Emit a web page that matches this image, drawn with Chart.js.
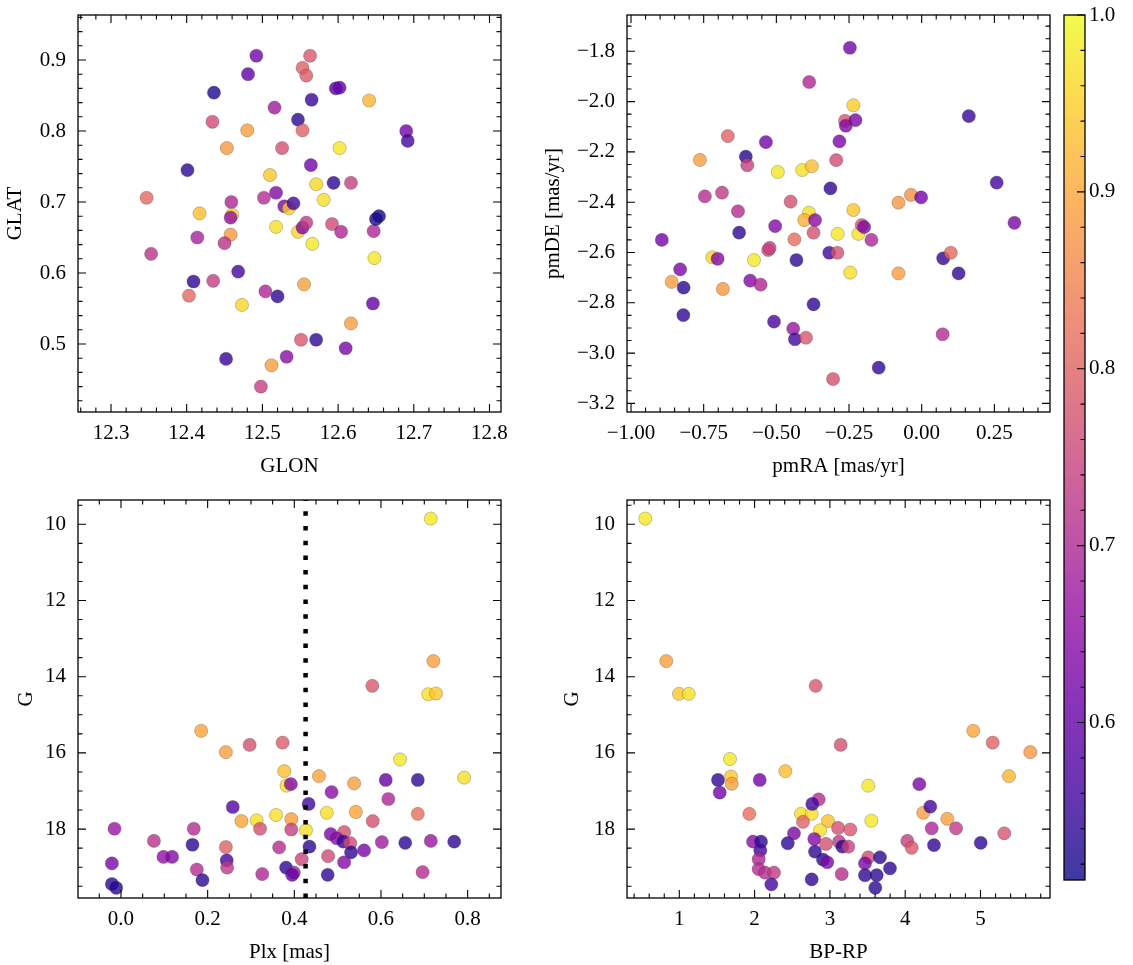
<!DOCTYPE html>
<html lang="en">
<head>
<meta charset="UTF-8">
<title>Cluster members</title>
<script src="https://cdn.jsdelivr.net/npm/chart.js@4.4.0/dist/chart.umd.min.js"></script>
<style>
    body { margin: 0; background: #fff; }
    #fig { position: relative; width: 1133px; height: 965px; overflow: hidden; background: #fff; }
    #fig canvas { position: absolute; }
</style>
</head>
<body>
<div id="fig">
    <canvas id="posChart"></canvas>
    <canvas id="pmChart"></canvas>
    <canvas id="plxChart"></canvas>
    <canvas id="cmdChart"></canvas>
    <canvas id="cbar"></canvas>
</div>
<script>
    // --- sky position panel ---
    const glon = [12.492, 12.563, 12.553, 12.558, 12.481, 12.436, 12.597, 12.602, 12.641, 12.565,
        12.516, 12.434, 12.547, 12.480, 12.553, 12.690, 12.692, 12.453, 12.526, 12.602,
        12.401, 12.564, 12.510, 12.571, 12.594, 12.617, 12.347, 12.459, 12.502, 12.518,
        12.529, 12.535, 12.541, 12.581, 12.417, 12.460, 12.458, 12.518, 12.547, 12.553,
        12.558, 12.592, 12.604, 12.566, 12.647, 12.650, 12.654, 12.414, 12.458, 12.450,
        12.353, 12.648, 12.468, 12.409, 12.435, 12.403, 12.504, 12.520, 12.555, 12.473,
        12.646, 12.617, 12.551, 12.571, 12.610, 12.452, 12.512, 12.532, 12.498];
    const glat = [0.906, 0.906, 0.889, 0.878, 0.880, 0.854, 0.860, 0.861, 0.843, 0.844,
        0.833, 0.813, 0.816, 0.801, 0.801, 0.800, 0.786, 0.776, 0.776, 0.776,
        0.745, 0.752, 0.738, 0.725, 0.727, 0.727, 0.706, 0.700, 0.706, 0.713,
        0.694, 0.691, 0.698, 0.703, 0.684, 0.682, 0.678, 0.665, 0.658, 0.664,
        0.671, 0.669, 0.658, 0.641, 0.659, 0.676, 0.680, 0.650, 0.654, 0.642,
        0.627, 0.621, 0.602, 0.588, 0.589, 0.568, 0.574, 0.567, 0.584, 0.555,
        0.557, 0.529, 0.506, 0.506, 0.494, 0.479, 0.470, 0.482, 0.440];
    const probPos = [0.62, 0.78, 0.80, 0.79, 0.60, 0.53, 0.58, 0.60, 0.92, 0.55,
        0.68, 0.76, 0.54, 0.89, 0.80, 0.62, 0.56, 0.88, 0.77, 0.98,
        0.54, 0.62, 0.94, 0.96, 0.54, 0.74, 0.81, 0.70, 0.71, 0.64,
        0.63, 0.95, 0.56, 0.97, 0.93, 0.95, 0.66, 0.97, 0.96, 0.64,
        0.73, 0.76, 0.70, 0.98, 0.70, 0.53, 0.52, 0.69, 0.88, 0.72,
        0.72, 0.98, 0.56, 0.54, 0.74, 0.81, 0.70, 0.54, 0.89, 0.96,
        0.60, 0.89, 0.78, 0.54, 0.63, 0.55, 0.89, 0.65, 0.74];

    // --- proper motion panel ---
    const pmra = [-0.247, -0.387, -0.235, -0.264, -0.261, -0.228, 0.162, -0.667, -0.536, -0.283,
        -0.763, -0.605, -0.600, -0.294, -0.495, -0.411, -0.378, -0.314, 0.258, -0.746,
        -0.687, -0.451, -0.632, -0.388, -0.404, -0.367, -0.235, -0.080, -0.037, -0.002,
        0.319, -0.894, -0.628, -0.504, -0.438, -0.372, -0.289, -0.218, -0.206, -0.198,
        -0.173, -0.831, -0.860, -0.819, -0.820, -0.720, -0.702, -0.684, -0.577, -0.590,
        -0.554, -0.528, -0.523, -0.431, -0.318, -0.290, -0.246, -0.080, -0.372, -0.508,
        -0.442, -0.436, -0.398, -0.148, -0.305, 0.074, 0.100, 0.127, 0.072];
    const pmde = [-1.786, -1.922, -2.015, -2.077, -2.096, -2.074, -2.058, -2.137, -2.161, -2.158,
        -2.232, -2.219, -2.253, -2.233, -2.280, -2.272, -2.257, -2.345, -2.322, -2.377,
        -2.362, -2.398, -2.436, -2.442, -2.471, -2.471, -2.431, -2.402, -2.371, -2.381,
        -2.482, -2.550, -2.521, -2.495, -2.548, -2.521, -2.526, -2.526, -2.491, -2.499,
        -2.550, -2.667, -2.717, -2.740, -2.849, -2.619, -2.625, -2.745, -2.630, -2.712,
        -2.728, -2.590, -2.582, -2.630, -2.601, -2.601, -2.680, -2.683, -2.806, -2.875,
        -2.903, -2.945, -2.939, -3.058, -3.103, -2.623, -2.601, -2.683, -2.925];
    const probPm = [0.62, 0.70, 0.95, 0.78, 0.64, 0.63, 0.55, 0.80, 0.62, 0.63,
        0.89, 0.53, 0.74, 0.76, 0.98, 0.97, 0.93, 0.54, 0.56, 0.71,
        0.73, 0.77, 0.71, 0.97, 0.91, 0.65, 0.94, 0.88, 0.87, 0.62,
        0.63, 0.62, 0.54, 0.64, 0.82, 0.77, 0.98, 0.97, 0.76, 0.64,
        0.70, 0.63, 0.89, 0.54, 0.54, 0.96, 0.64, 0.88, 0.98, 0.64,
        0.70, 0.76, 0.74, 0.54, 0.56, 0.77, 0.97, 0.89, 0.54, 0.57,
        0.67, 0.56, 0.78, 0.54, 0.77, 0.54, 0.81, 0.54, 0.71];

    // --- parallax vs magnitude panel ---
    const plx = [0.715, 0.721, 0.580, 0.709, 0.727, 0.185, 0.242, 0.297, 0.373, 0.644,
        0.792, 0.377, 0.382, 0.392, 0.457, 0.486, 0.538, 0.611, 0.685, 0.617,
        0.433, 0.258, 0.278, 0.313, 0.358, 0.393, 0.475, 0.542, 0.581, 0.685,
        -0.015, 0.168, 0.321, 0.393, 0.427, 0.484, 0.515, 0.498, 0.513, 0.529,
        0.076, 0.165, 0.242, 0.365, 0.435, 0.531, 0.561, 0.602, 0.656, 0.715,
        0.769, -0.021, 0.098, 0.118, 0.244, 0.245, 0.175, 0.188, 0.326, 0.417,
        0.381, 0.399, 0.395, 0.478, 0.477, 0.515, 0.696, -0.021, -0.011];
    const gPlx = [9.85, 13.59, 14.24, 14.46, 14.44, 15.42, 15.98, 15.79, 15.73, 16.17,
        16.65, 16.48, 16.86, 16.82, 16.61, 17.03, 16.80, 16.71, 16.71, 17.21,
        17.34, 17.42, 17.79, 17.77, 17.63, 17.74, 17.57, 17.55, 17.79, 17.60,
        17.99, 17.99, 17.99, 18.01, 18.03, 18.13, 18.08, 18.24, 18.33, 18.37,
        18.31, 18.41, 18.47, 18.48, 18.46, 18.61, 18.56, 18.34, 18.36, 18.31,
        18.33, 18.90, 18.73, 18.73, 18.82, 19.01, 19.06, 19.34, 19.18, 18.79,
        19.01, 19.14, 19.20, 18.71, 19.20, 18.87, 19.13, 19.44, 19.54];
    const probPlx = [0.98, 0.89, 0.78, 0.97, 0.94, 0.90, 0.89, 0.77, 0.79, 0.98,
        0.97, 0.93, 0.97, 0.64, 0.90, 0.65, 0.89, 0.60, 0.54, 0.70,
        0.56, 0.58, 0.90, 0.97, 0.97, 0.89, 0.97, 0.90, 0.77, 0.82,
        0.67, 0.71, 0.77, 0.74, 0.97, 0.63, 0.77, 0.65, 0.55, 0.76,
        0.72, 0.54, 0.80, 0.71, 0.54, 0.54, 0.63, 0.68, 0.54, 0.67,
        0.54, 0.63, 0.66, 0.64, 0.56, 0.73, 0.71, 0.54, 0.70, 0.75,
        0.54, 0.68, 0.60, 0.76, 0.54, 0.64, 0.71, 0.54, 0.53];
    const plxCut = 0.426;

    // --- colour-magnitude panel ---
    const bprp = [0.548, 0.827, 0.996, 1.125, 2.811, 1.673, 1.687, 1.696, 1.514, 1.537,
        2.068, 2.408, 3.143, 3.510, 1.930, 2.616, 2.758, 2.643, 2.851, 2.766,
        2.975, 2.869, 3.108, 3.271, 3.550, 1.979, 2.085, 2.076, 2.054, 2.054,
        2.138, 2.258, 2.222, 2.440, 2.523, 2.793, 2.802, 2.908, 2.965, 2.948,
        3.121, 3.165, 3.244, 2.758, 3.157, 3.510, 3.466, 3.466, 3.621, 3.603,
        3.665, 3.798, 4.028, 4.086, 4.187, 4.240, 4.333, 4.352, 4.382, 4.559,
        4.675, 4.904, 5.162, 5.661, 5.378, 5.003, 5.316];
    const gCmd = [9.85, 13.59, 14.45, 14.45, 14.24, 16.16, 16.62, 16.81, 16.71, 17.04,
        16.71, 16.48, 15.79, 16.86, 17.60, 17.60, 17.60, 17.81, 17.22, 17.34,
        17.79, 18.03, 17.97, 18.01, 17.78, 18.33, 18.33, 18.56, 18.79, 19.05,
        19.14, 19.14, 19.45, 18.37, 18.11, 18.26, 18.59, 18.80, 18.87, 18.39,
        18.33, 18.46, 18.46, 19.32, 19.18, 18.74, 18.90, 19.21, 19.21, 19.54,
        18.74, 19.03, 18.31, 18.49, 16.82, 17.57, 17.41, 17.98, 18.42, 17.73,
        17.98, 15.42, 15.73, 15.98, 16.61, 18.36, 18.11];
    const probCmd = [0.98, 0.89, 0.94, 0.97, 0.78, 0.98, 0.94, 0.89, 0.54, 0.62,
        0.62, 0.93, 0.77, 0.98, 0.82, 0.97, 0.97, 0.80, 0.71, 0.56,
        0.93, 0.97, 0.77, 0.78, 0.98, 0.65, 0.54, 0.56, 0.70, 0.71,
        0.71, 0.73, 0.56, 0.54, 0.63, 0.64, 0.54, 0.54, 0.63, 0.77,
        0.73, 0.54, 0.74, 0.54, 0.71, 0.76, 0.63, 0.54, 0.54, 0.54,
        0.54, 0.54, 0.74, 0.78, 0.63, 0.89, 0.56, 0.70, 0.54, 0.89,
        0.73, 0.90, 0.80, 0.88, 0.92, 0.54, 0.78];

    // axis limits and ticks
    const glonRange = [12.2564, 12.8152], glonTicks = [12.3, 12.4, 12.5, 12.6, 12.7, 12.8];
    const glatRange = [0.4042, 0.9634], glatTicks = [0.5, 0.6, 0.7, 0.8, 0.9];
    const pmraRange = [-1.0138, 0.4414], pmraTicks = [-1.0, -0.75, -0.5, -0.25, 0.0, 0.25];
    const pmdeRange = [-3.2342, -1.6557], pmdeTicks = [-3.2, -3.0, -2.8, -2.6, -2.4, -2.2, -2.0, -1.8];
    const plxRange = [-0.0992, 0.877], plxTicks = [0.0, 0.2, 0.4, 0.6, 0.8];
    const bprpRange = [0.3054, 5.923], bprpTicks = [1, 2, 3, 4, 5];
    const gRange = [9.362, 19.808], gTicks = [10, 12, 14, 16, 18];
    const cbRange = [0.511, 1.0], cbTicks = [0.6, 0.7, 0.8, 0.9, 1.0];

    const plasmaStops = ['#0d0887', '#41049d', '#6a00a8', '#8f0da4', '#b12a90', '#cc4778',
        '#e16462', '#f2844b', '#fca636', '#fcce25', '#f0f921'];
    const ALPHA = 0.8;
    const FONT = '"Liberation Serif", "DejaVu Serif", serif';
    const FS = 21;

    function hexRgb(h) {
        return [1, 3, 5].map(i => parseInt(h.slice(i, i + 2), 16));
    }

    function plasma(p, a) {
        let t = (p - cbRange[0]) / (cbRange[1] - cbRange[0]);
        t = Math.min(1, Math.max(0, t));
        const f = t * (plasmaStops.length - 1);
        const i = Math.min(Math.floor(f), plasmaStops.length - 2);
        const u = f - i;
        const c0 = hexRgb(plasmaStops[i]), c1 = hexRgb(plasmaStops[i + 1]);
        const c = c0.map((v, k) => Math.round(v + (c1[k] - v) * u));
        return `rgba(${c[0]}, ${c[1]}, ${c[2]}, ${a})`;
    }

    const minus = s => s.replace('-', '\u2212');

    // tick marks drawn inward on the frame, per canvas
    const tickCfg = {};

    const frameTicks = {
        id: 'frameTicks',
        afterDraw(chart) {
            const cfg = tickCfg[chart.canvas.id];
            if (!cfg) return;
            const { ctx, chartArea: a } = chart;
            ctx.save();
            ctx.strokeStyle = '#000';
            ctx.lineWidth = 1.1;
            ctx.beginPath();
            ['x', 'y'].forEach(k => {
                const ax = cfg[k];
                if (!ax) return;
                const sc = chart.scales[k];
                const lo = Math.min(sc.min, sc.max), hi = Math.max(sc.min, sc.max);
                const marks = ax.ticks.map(v => [v, 8]);
                const n0 = Math.ceil(lo / ax.minor - 1e-6), n1 = Math.floor(hi / ax.minor + 1e-6);
                for (let n = n0; n <= n1; n++) {
                    const v = n * ax.minor;
                    if (!ax.ticks.some(m => Math.abs(m - v) < ax.minor / 10)) marks.push([v, 4.5]);
                }
                const sides = ax.sides || (k === 'x' ? ['bottom', 'top'] : ['left', 'right']);
                marks.forEach(([v, len]) => {
                    const p = sc.getPixelForValue(v);
                    sides.forEach(s => {
                        if (s === 'bottom') { ctx.moveTo(p, a.bottom); ctx.lineTo(p, a.bottom - len); }
                        if (s === 'top') { ctx.moveTo(p, a.top); ctx.lineTo(p, a.top + len); }
                        if (s === 'left') { ctx.moveTo(a.left, p); ctx.lineTo(a.left + len, p); }
                        if (s === 'right') { ctx.moveTo(a.right, p); ctx.lineTo(a.right - len, p); }
                    });
                });
            });
            ctx.stroke();
            ctx.lineWidth = 1.3;
            ctx.strokeRect(a.left, a.top, a.width, a.height);
            ctx.restore();
        }
    };

    const cbarFill = {
        id: 'cbarFill',
        beforeDatasetsDraw(chart) {
            const { ctx, chartArea: a, scales: { y } } = chart;
            const g = ctx.createLinearGradient(0, y.getPixelForValue(cbRange[0]), 0, y.getPixelForValue(cbRange[1]));
            plasmaStops.forEach((c, i) => {
                const [r, gg, b] = hexRgb(c);
                g.addColorStop(i / (plasmaStops.length - 1), `rgba(${r}, ${gg}, ${b}, ${ALPHA})`);
            });
            ctx.save();
            ctx.fillStyle = g;
            ctx.fillRect(a.left, a.top, a.width, a.height);
            ctx.restore();
        }
    };

    function axis(pos, range, ticks, fmt, title, size, pad, titlePad, reverse) {
        return {
            type: 'linear',
            position: pos,
            min: range[0],
            max: range[1],
            reverse: !!reverse,
            grid: { display: false, drawTicks: false },
            border: { display: false },
            afterBuildTicks: s => { s.ticks = ticks.map(v => ({ value: v })); },
            afterFit: s => {
                if (s.isHorizontal()) s.height = size; else s.width = size;
                s.paddingTop = s.paddingBottom = s.paddingLeft = s.paddingRight = 0;
            },
            ticks: {
                autoSkip: false, maxRotation: 0, minRotation: 0, padding: pad, color: '#000',
                font: { family: FONT, size: FS },
                callback: v => fmt(v)
            },
            title: {
                display: !!title, text: title, color: '#000',
                font: { family: FONT, size: FS }, padding: titlePad
            }
        };
    }

    function makePanel(id, area, yw, xAx, yAx, xs, ys, probs, extra) {
        const [l, t, r, b] = area;
        const padTop = 15, padRight = 40, xh = 70;
        const cv = document.getElementById(id);
        const w = yw + (r - l) + padRight, h = padTop + (b - t) + xh;
        cv.width = w; cv.height = h;
        cv.style.left = (l - yw) + 'px';
        cv.style.top = (t - padTop) + 'px';
        cv.style.width = w + 'px';
        cv.style.height = h + 'px';
        tickCfg[id] = { x: { ticks: xAx.ticks, minor: xAx.minor }, y: { ticks: yAx.ticks, minor: yAx.minor } };

        const datasets = [{
            type: 'scatter',
            data: xs.map((v, i) => ({ x: v, y: ys[i] })),
            pointRadius: 6.6,
            pointBackgroundColor: probs.map(p => plasma(p, ALPHA)),
            pointBorderColor: 'rgba(50, 50, 50, 0.45)',
            pointBorderWidth: 0.6,
            order: 1
        }].concat(extra || []);

        return new Chart(cv, {
            type: 'scatter',
            data: { datasets },
            options: {
                responsive: false,
                animation: false,
                devicePixelRatio: 1,
                layout: { padding: { left: 0, top: padTop, right: padRight, bottom: 0 } },
                plugins: { legend: { display: false }, tooltip: { enabled: false } },
                scales: {
                    x: axis('bottom', xAx.range, xAx.ticks, xAx.fmt, xAx.title, xh, 9, { top: 0, bottom: 3 }),
                    y: axis('left', yAx.range, yAx.ticks, yAx.fmt, yAx.title, yw, 12, { top: 1, bottom: 0 }, yAx.reverse)
                }
            },
            plugins: [frameTicks]
        });
    }

    const f1 = v => v.toFixed(1);
    const f2 = v => minus(v.toFixed(2));
    const f1m = v => minus(v.toFixed(1));
    const f0 = v => v.toFixed(0);

    makePanel('posChart', [78, 15, 501, 412], 76,
        { range: glonRange, ticks: glonTicks, minor: 0.02, fmt: f1, title: 'GLON' },
        { range: glatRange, ticks: glatTicks, minor: 0.02, fmt: f1, title: 'GLAT' },
        glon, glat, probPos);

    makePanel('pmChart', [627, 15, 1050, 412], 87,
        { range: pmraRange, ticks: pmraTicks, minor: 0.05, fmt: f2, title: 'pmRA [mas/yr]' },
        { range: pmdeRange, ticks: pmdeTicks, minor: 0.05, fmt: f1m, title: 'pmDE [mas/yr]' },
        pmra, pmde, probPm);

    makePanel('plxChart', [78, 500, 501, 898], 65,
        { range: plxRange, ticks: plxTicks, minor: 0.05, fmt: f1m, title: 'Plx [mas]' },
        { range: gRange, ticks: gTicks, minor: 0.5, fmt: f0, title: 'G', reverse: true },
        plx, gPlx, probPlx,
        [{
            type: 'line',
            data: [{ x: plxCut, y: gRange[1] }, { x: plxCut, y: gRange[0] }],
            borderColor: '#000',
            borderWidth: 4.5,
            borderDash: [4.5, 10.2],
            borderCapStyle: 'butt',
            pointRadius: 0,
            fill: false,
            order: 0
        }]);

    makePanel('cmdChart', [627, 500, 1050, 898], 68,
        { range: bprpRange, ticks: bprpTicks, minor: 0.2, fmt: f0, title: 'BP-RP' },
        { range: gRange, ticks: gTicks, minor: 0.5, fmt: f0, title: 'G', reverse: true },
        bprp, gCmd, probCmd);

    // colour bar
    (function () {
        const cv = document.getElementById('cbar');
        const w = 81, h = 900;
        cv.width = w; cv.height = h;
        cv.style.left = '1054px'; cv.style.top = '0px';
        cv.style.width = w + 'px'; cv.style.height = h + 'px';
        tickCfg.cbar = { y: { ticks: cbTicks, minor: 0.02, sides: ['right'] } };
        const yAxis = axis('right', cbRange, cbTicks, f1, '', 50, 4, 0);
        new Chart(cv, {
            type: 'scatter',
            data: { datasets: [] },
            options: {
                responsive: false,
                animation: false,
                devicePixelRatio: 1,
                layout: { padding: { left: 10, top: 15, right: 0, bottom: 20 } },
                plugins: { legend: { display: false }, tooltip: { enabled: false } },
                scales: {
                    x: { type: 'linear', display: false, min: 0, max: 1 },
                    y: yAxis
                }
            },
            plugins: [cbarFill, frameTicks]
        });
    })();
</script>
</body>
</html>
